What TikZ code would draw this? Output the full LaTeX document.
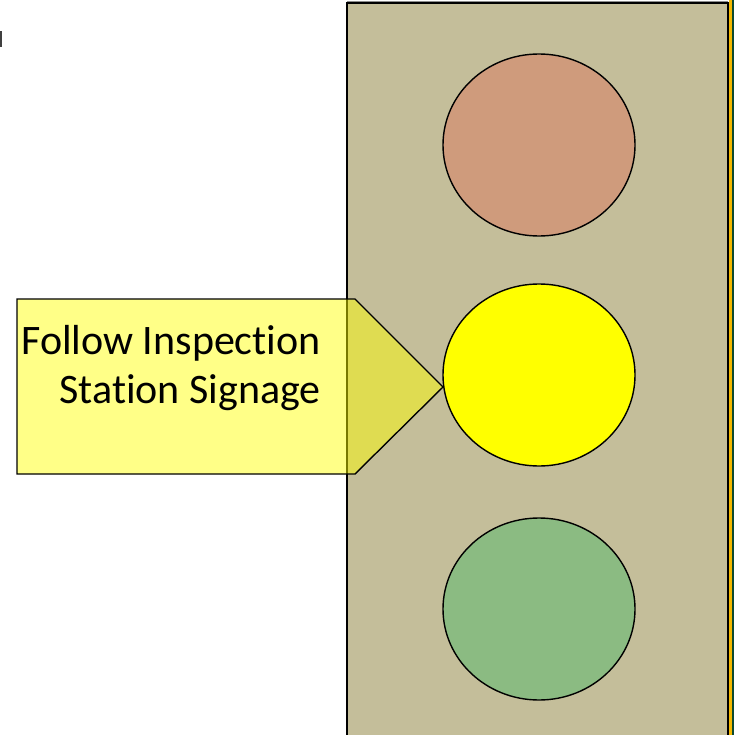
\documentclass[tikz,border=0pt]{standalone}
\usepackage{fontspec}
\setmainfont[Ligatures=NoCommon]{Carlito}
\usetikzlibrary{shapes.geometric}
\definecolor{housing}{HTML}{C4BE9A}
\definecolor{lampRed}{HTML}{CF9B7C}
\definecolor{lampYellow}{HTML}{FFFF00}
\definecolor{lampGreen}{HTML}{8BBB82}
\definecolor{stripeY}{HTML}{F5B800}
\definecolor{stripeG}{HTML}{0C4A2E}
\tikzset{
  lamp/.style={ellipse, draw=black, line width=1.4pt, inner sep=0pt,
    minimum width=192pt, minimum height=182pt},
  callout/.style={draw=black, line width=1.4pt, fill=lampYellow,
    fill opacity=0.47, line join=miter},
  calltext/.style={anchor=base east, inner sep=0pt,
    font=\fontsize{42}{48}\selectfont}
}
\begin{document}
\begin{tikzpicture}[x=1pt,y=-1pt]
\useasboundingbox (0,0) rectangle (734,735);
\fill[white] (0,0) rectangle (734,735);
% small mark at the left edge
\fill[black!75] (0,31) rectangle (1.8,47);
% signal housing
\fill[housing] (347,3) rectangle (728,740);
\draw[black!45, line width=1pt] (347,1.6) -- (728,1.6);
\draw[line width=1.6pt] (347,740) -- (347,3) -- (728,3) -- (728,740);
\fill[stripeY] (729.3,0) rectangle (731.7,735);
\fill[stripeG] (731.7,0) rectangle (734,735);
% lamps
\node[lamp, fill=lampRed] (red) at (539,145) {};
\node[lamp, fill=lampYellow] (yellow) at (539,375) {};
\node[lamp, fill=lampGreen] (green) at (539,609) {};
% callout pointing at the amber lamp
\coordinate (tip) at (443,387);
\path[callout] (17,299) -- (355,299) -- (tip) -- (355,474) -- (17,474) -- cycle;
\node[calltext] (line1) at (321,354) {Follow Inspection};
\node[calltext] (line2) at (321,403) {Station Signage};
\end{tikzpicture}
\end{document}
